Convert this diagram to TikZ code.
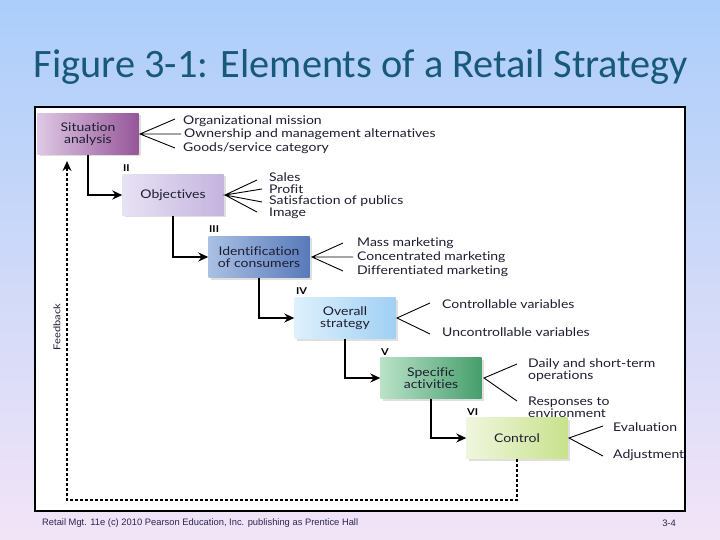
\documentclass[tikz,border=0pt]{standalone}
\usepackage{fontspec}
\setmainfont{Lato}[FakeStretch=1.17, Ligatures=NoCommon]
\newfontfamily\titlefont{Carlito}
\newfontfamily\footfont{Liberation Sans}
\usetikzlibrary{arrows.meta,shadows}
\definecolor{bgtop}{RGB}{172,206,250}
\definecolor{bgmid}{RGB}{170,203,248}
\definecolor{bgbot}{RGB}{242,228,247}
\definecolor{titleblue}{RGB}{24,88,122}
\definecolor{boxtext}{RGB}{30,30,50}
\definecolor{footcol}{RGB}{40,40,80}
\definecolor{b1l}{RGB}{222,200,228}\definecolor{b1r}{RGB}{150,86,152}
\definecolor{b2l}{RGB}{232,226,244}\definecolor{b2r}{RGB}{196,180,222}
\definecolor{b3l}{RGB}{170,192,228}\definecolor{b3r}{RGB}{88,122,186}
\definecolor{b4l}{RGB}{222,240,252}\definecolor{b4r}{RGB}{160,208,244}
\definecolor{b5l}{RGB}{186,226,200}\definecolor{b5r}{RGB}{70,158,108}
\definecolor{b6l}{RGB}{240,246,222}\definecolor{b6r}{RGB}{200,226,140}
\begin{document}
\begin{tikzpicture}[x=1bp,y=-1bp,
  stagebox/.style={minimum width=101bp, minimum height=41bp, align=center, inner sep=0pt,
    font=\fontsize{12}{12.5}\selectfont, text=boxtext,
    drop shadow={opacity=0.25, shadow xshift=2bp, shadow yshift=-2bp}},
  item/.style={anchor=west, align=left, inner sep=0pt, font=\fontsize{12}{12.5}\selectfont, text=boxtext},
  numeral/.style={anchor=west, inner sep=0pt, font=\fontsize{9.5}{10}\selectfont\bfseries, text=black},
  flow/.style={line width=1.5bp, -{Stealth[length=10bp,width=9bp]}},
  fan/.style={line width=0.9bp},
  fb/.style={line width=1.4bp, dash pattern=on 3bp off 2bp}]
\useasboundingbox (0,0) rectangle (720,540);
\shade[top color=bgtop, middle color=bgmid, bottom color=bgbot] (0,0) rectangle (720,540);
\node[font=\titlefont\fontsize{40.5}{42}\selectfont, text=titleblue] (title) at (361,67) {Figure 3-1: Elements of a Retail Strategy};
\draw[line width=2bp, fill=white] (35,107) rectangle (685,511);
\begin{scope}
\clip (36,108) rectangle (684,510);
% stage boxes
\node[stagebox, left color=b1l, right color=b1r] (b1) at (88,134) {Situation\\analysis};
\node[stagebox, left color=b2l, right color=b2r] (b2) at (173,195) {Objectives};
\node[stagebox, left color=b3l, right color=b3r] (b3) at (259,257) {Identification\\of consumers};
\node[stagebox, left color=b4l, right color=b4r] (b4) at (345,318) {Overall\\strategy};
\node[stagebox, left color=b5l, right color=b5r] (b5) at (431,378) {Specific\\activities};
\node[stagebox, left color=b6l, right color=b6r] (b6) at (517,438) {Control};
% numerals
\node[numeral] (n2) at (123,168) {II};
\node[numeral] (n3) at (209,229) {III};
\node[numeral] (n4) at (296,291) {IV};
\node[numeral] (n5) at (381,352) {V};
\node[numeral] (n6) at (467,412) {VI};
% flow arrows
\draw[flow] (b1.south) |- (b2.west);
\draw[flow] (b2.south) |- (b3.west);
\draw[flow] (b3.south) |- (b4.west);
\draw[flow] (b4.south) |- (b5.west);
\draw[flow] (b5.south) |- (b6.west);
% items 1
\node[item] (t11) at (183,121) {Organizational mission};
\node[item] (t12) at (184,134) {Ownership and management alternatives};
\node[item] (t13) at (183,148) {Goods/service category};
\coordinate (a1) at (140,134);
\coordinate (e11) at (175,119); \coordinate (e12) at (181,134); \coordinate (e13) at (175,148);
\draw[fan] (e11) -- (a1) -- (e13) (a1) -- (e12);
% items 2
\node[item] (t21) at (269,177) {Sales};
\node[item] (t22) at (269,189) {Profit};
\node[item] (t23) at (269,201) {Satisfaction of publics};
\node[item] (t24) at (269,213) {Image};
\coordinate (a2) at (225,195);
\coordinate (e21) at (257,180); \coordinate (e22) at (262,189); \coordinate (e23) at (262,202); \coordinate (e24) at (257,212);
\draw[fan] (e21) -- (a2) -- (e24) (e22) -- (a2) -- (e23);
% items 3
\node[item] (t31) at (357,243) {Mass marketing};
\node[item] (t32) at (357,257) {Concentrated marketing};
\node[item] (t33) at (357,271) {Differentiated marketing};
\coordinate (a3) at (312,257);
\coordinate (e31) at (343,243); \coordinate (e32) at (353,257); \coordinate (e33) at (343,271);
\draw[fan] (e31) -- (a3) -- (e33) (a3) -- (e32);
% items 4
\node[item] (t41) at (442,304) {Controllable variables};
\node[item] (t42) at (442,332) {Uncontrollable variables};
\coordinate (a4) at (397,318);
\coordinate (e41) at (430,303); \coordinate (e42) at (430,334);
\draw[fan] (e41) -- (a4) -- (e42);
% items 5
\node[item] (t51) at (528,370) {Daily and short-term\\operations};
\node[item] (t52) at (528,407) {Responses to\\environment};
\coordinate (a5) at (484,378);
\coordinate (e51) at (517,364); \coordinate (e52) at (517,401);
\draw[fan] (e51) -- (a5) -- (e52);
% items 6
\node[item] (t61) at (613,427) {Evaluation};
\node[item] (t62) at (613,455) {Adjustment};
\coordinate (a6) at (569,438);
\coordinate (e61) at (603,426); \coordinate (e62) at (603,456);
\draw[fan] (e61) -- (a6) -- (e62);
% feedback
\coordinate (fbcorner) at (67,500);
\coordinate (fbtop) at (67,168);
\coordinate (fbtip) at (67,161);
\draw[fb] (b6.south) |- (fbcorner) -- (fbtop);
\draw[line width=1.4bp, -{Stealth[length=10bp,width=9bp]}] (fbtop) -- (fbtip);
\node[rotate=90, font=\fontsize{9.5}{10}\selectfont, text=boxtext] (fblabel) at (57,327) {Feedback};
\end{scope}
% footer
\node[font=\footfont\fontsize{9.4}{10}\selectfont, anchor=west, text=footcol, inner sep=0pt] (foot) at (42,523) {Retail Mgt. 11e (c) 2010 Pearson Education, Inc. publishing as Prentice Hall};
\node[font=\footfont\fontsize{9.4}{10}\selectfont, anchor=east, text=footcol, inner sep=0pt] (page) at (676,523) {3-4};
\end{tikzpicture}
\end{document}
